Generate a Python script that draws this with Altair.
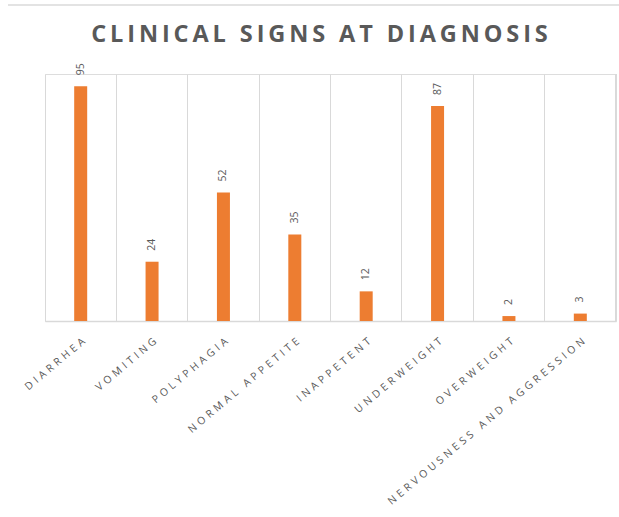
import altair as alt
import pandas as pd

# Clinical signs recorded at diagnosis (number of animals)
signs = [
    "DIARRHEA",
    "VOMITING",
    "POLYPHAGIA",
    "NORMAL APPETITE",
    "INAPPETENT",
    "UNDERWEIGHT",
    "OVERWEIGHT",
    "NERVOUSNESS AND AGGRESSION",
]
counts = [95, 24, 52, 35, 12, 87, 2, 3]

df = pd.DataFrame({"sign": signs, "count": counts})

GRID = "#d9d9d9"
TEXT = "#595959"
ORANGE = "#ED7D31"
FONT = "Open Sans"
W, H = 571, 247

# letter-spaced rendering of the labels and title
SP = "\u2004"
title_text = "\u2009".join("CLINICAL SIGNS AT DIAGNOSIS")

x_enc = alt.X(
    "sign:N",
    sort=signs,
    title=None,
    scale=alt.Scale(paddingInner=0, paddingOuter=0),
    axis=alt.Axis(
        bandPosition=0,
        grid=True,
        gridColor=GRID,
        gridWidth=1,
        ticks=False,
        domainColor=GRID,
        domainWidth=1.5,
        labelAngle=-40,
        labelAlign="right",
        labelBaseline="top",
        labelPadding=15,
        labelFont=FONT,
        labelFontSize=10.5,
        labelColor=TEXT,
        labelExpr=f"join(split(datum.label, ''), '{SP}')",
        labelOverlap=False,
        labelLimit=400,
    ),
)
y_enc = alt.Y(
    "count:Q",
    scale=alt.Scale(domain=[0, 100], nice=False),
    axis=None,
)

base = alt.Chart(df)

bars = base.mark_bar(color=ORANGE, size=13).encode(x=x_enc, y=y_enc)

values = base.mark_text(
    angle=270,
    align="left",
    baseline="middle",
    dx=11,
    font=FONT,
    fontSize=10.5,
    color=TEXT,
).encode(
    x=alt.X("sign:N", sort=signs),
    y="count:Q",
    text=alt.Text("count:Q"),
)

# closing gridline on the right side of the plot
right_edge = base.mark_rule(color=GRID, strokeWidth=1).encode(
    x=alt.value(W), y=alt.value(0), y2=alt.value(H)
)

# faint frame line along the top of the figure
top_frame = base.mark_rule(color="#e3e3e3", strokeWidth=2).encode(
    x=alt.value(-37), x2=alt.value(W + 3), y=alt.value(-69)
)

chart = (
    alt.layer(bars, values, right_edge, top_frame)
    .properties(
        width=W,
        height=H,
        autosize=alt.AutoSizeParams(type="none"),
        padding={"left": 45, "top": 74, "right": 3, "bottom": 196},
        title=alt.TitleParams(
            text=title_text,
            font=FONT,
            fontSize=23.5,
            fontWeight="bold",
            color=TEXT,
            anchor="middle",
            frame="group",
            baseline="alphabetic",
            dx=-11,
            offset=-61,
        ),
    )
    .configure_view(strokeWidth=0, stroke="transparent")
    .configure(background="white")
)

chart.save("out.html", embed_options={"renderer": "svg", "actions": False})
